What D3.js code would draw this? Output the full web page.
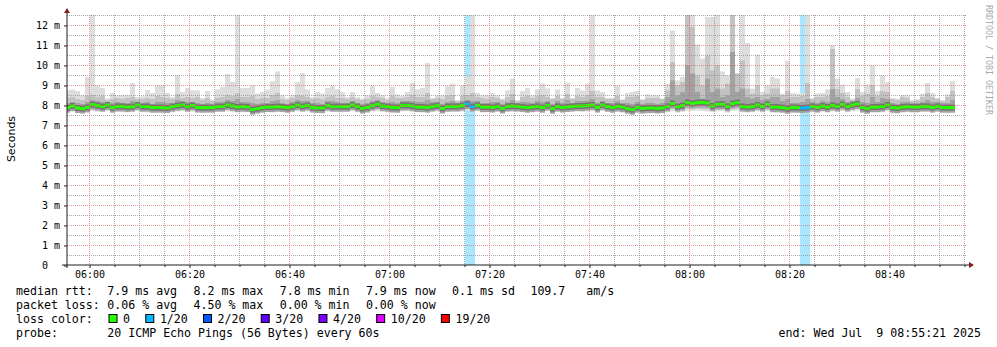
<!DOCTYPE html>
<html>
<head>
<meta charset="utf-8">
<script src="https://cdn.jsdelivr.net/npm/d3@7"></script>
<style>
body { margin: 0; background: #fff; }
svg text { white-space: pre; }
</style>
</head>
<body>
<div id="area"></div>
<script>
// one column per minute, starting 05:55
const firstColumn = '05:55';

// median rtt per minute (ms)
const medRtt = [
  7.87,7.95,7.85,7.82,7.88,8.02,7.97,7.92,8.00,7.87,7.93,7.93,7.90,7.92,8.00,7.92,7.92,7.87,7.87,7.87,7.85,7.92,7.97,8.00,7.92,7.98,7.88,7.87,7.87,7.87,7.92,7.92,8.00,7.95,7.90,7.92,
  7.90,7.77,7.82,7.87,7.90,7.90,7.92,7.90,7.87,7.92,8.00,7.93,7.98,7.88,7.85,7.85,7.97,7.92,7.92,7.92,7.92,8.00,7.92,7.83,7.88,7.97,8.03,7.95,7.92,7.88,7.87,7.98,7.98,7.95,7.90,7.90,
  7.87,7.93,7.97,7.83,7.92,7.93,7.93,7.97,8.05,7.92,7.98,7.90,7.90,7.88,7.93,7.83,7.93,7.95,7.93,7.90,7.87,7.90,7.93,7.87,7.98,7.82,7.93,7.88,7.90,7.93,7.95,7.95,7.97,8.00,7.88,8.00,
  7.92,7.87,7.93,7.90,7.82,7.77,7.88,7.83,7.85,7.85,7.83,7.85,7.93,8.08,7.92,7.97,8.13,8.08,8.12,8.13,8.10,7.95,8.03,8.03,7.93,8.07,8.12,7.93,7.90,7.93,8.00,7.93,8.03,7.90,7.90,7.87,
  7.82,7.88,7.87,7.85,7.87,7.93,7.88,7.95,7.90,7.98,7.93,8.02,7.93,8.00,8.05,7.88,7.82,7.90,7.90,7.92,8.00,7.87,7.85,7.90,7.92,7.90,7.90,7.93,7.93,7.88,7.93,7.87,7.87,7.87
];
// fastest ping per minute (ms)
const minRtt = [
  7.65,7.68,7.62,7.60,7.63,7.70,7.66,7.65,7.70,7.62,7.66,7.64,7.63,7.66,7.70,7.65,7.63,7.60,7.62,7.58,7.60,7.64,7.68,7.70,7.65,7.68,7.62,7.60,7.63,7.62,7.65,7.66,7.68,7.66,7.62,7.64,
  7.64,7.55,7.60,7.62,7.65,7.63,7.66,7.64,7.60,7.66,7.70,7.66,7.68,7.62,7.60,7.58,7.68,7.65,7.66,7.64,7.65,7.70,7.64,7.58,7.62,7.68,7.72,7.66,7.64,7.62,7.60,7.68,7.70,7.66,7.64,7.63,
  7.62,7.66,7.68,7.58,7.65,7.66,7.66,7.68,7.72,7.65,7.70,7.63,7.64,7.62,7.66,7.58,7.65,7.66,7.66,7.64,7.60,7.63,7.66,7.60,7.70,7.56,7.66,7.62,7.64,7.66,7.68,7.66,7.68,7.70,7.62,7.70,
  7.65,7.60,7.66,7.62,7.56,7.52,7.60,7.56,7.58,7.60,7.56,7.58,7.64,7.70,7.62,7.66,7.72,7.70,7.72,7.70,7.68,7.64,7.68,7.70,7.62,7.70,7.72,7.64,7.62,7.64,7.68,7.64,7.70,7.62,7.60,7.60,
  7.55,7.60,7.60,7.58,7.60,7.65,7.60,7.66,7.62,7.68,7.64,7.70,7.64,7.68,7.72,7.60,7.55,7.62,7.62,7.64,7.70,7.58,7.56,7.62,7.64,7.62,7.62,7.66,7.66,7.60,7.66,7.60,7.58,7.60
];
// upper edge of the dense smoke (ms)
const midRtt = [
  8.10,8.15,8.10,8.05,8.15,8.25,8.20,8.15,8.15,8.10,8.15,8.10,8.10,8.20,8.15,8.10,8.15,8.05,8.15,8.15,8.10,8.10,8.25,8.20,8.15,8.15,8.10,8.05,8.10,8.05,8.15,8.15,8.25,8.20,8.30,8.15,
  8.15,8.10,8.05,8.10,8.10,8.20,8.25,8.10,8.05,8.15,8.25,8.20,8.20,8.10,8.10,8.05,8.20,8.20,8.15,8.10,8.10,8.20,8.10,8.05,8.10,8.20,8.25,8.15,8.10,8.15,8.10,8.20,8.20,8.20,8.15,8.15,
  8.25,8.15,8.15,8.05,8.15,8.20,8.10,8.20,8.25,8.20,8.20,8.10,8.10,8.15,8.15,8.05,8.15,8.25,8.10,8.15,8.15,8.10,8.20,8.15,8.20,8.05,8.20,8.10,8.25,8.10,8.20,8.20,8.20,8.30,8.10,8.20,
  8.10,8.10,8.20,8.10,8.10,8.05,8.15,8.05,8.10,8.10,8.05,8.10,8.40,9.23,8.48,8.65,9.98,9.57,8.65,8.32,9.32,8.65,8.82,8.40,8.48,10.65,8.65,8.82,8.40,8.32,8.40,8.25,8.30,8.40,8.40,8.20,
  8.30,8.10,8.10,8.15,8.30,8.15,8.10,8.20,8.15,8.80,8.40,8.30,8.15,8.20,8.35,8.15,8.10,8.40,8.15,8.35,8.30,8.10,8.05,8.15,8.15,8.10,8.10,8.15,8.25,8.15,8.15,8.10,8.10,8.25
];
// upper edge of the medium smoke (ms)
const upRtt = [
  8.35,8.40,8.30,8.25,8.45,8.50,8.40,8.45,8.25,8.30,8.35,8.30,8.35,8.40,8.30,8.30,8.35,8.30,8.45,8.40,8.35,8.30,8.55,8.35,8.40,8.35,8.40,8.25,8.35,8.20,8.35,8.40,8.50,8.45,8.60,8.40,
  8.40,8.45,8.30,8.35,8.35,8.50,8.60,8.30,8.25,8.35,8.50,8.45,8.40,8.30,8.35,8.30,8.40,8.45,8.35,8.35,8.30,8.40,8.30,8.25,8.30,8.45,8.40,8.35,8.25,8.45,8.35,8.35,8.40,8.50,8.40,8.40,
  8.60,8.30,8.35,8.30,8.45,8.50,8.20,8.45,8.50,8.60,8.40,8.35,8.30,8.40,8.35,8.25,8.40,8.55,8.20,8.40,8.45,8.35,8.45,8.50,8.40,8.30,8.45,8.30,8.55,8.30,8.45,8.40,8.50,8.70,8.40,8.40,
  8.30,8.30,8.45,8.25,8.40,8.40,8.45,8.25,8.35,8.35,8.35,8.30,8.73,10.15,8.98,9.15,12.60,11.90,9.48,8.98,10.48,9.73,9.98,8.82,9.07,12.60,9.57,10.23,8.82,8.57,8.98,8.48,8.57,8.82,8.82,8.48,
  8.70,8.40,8.40,8.45,9.10,8.30,8.40,8.40,8.45,10.80,8.80,8.60,8.40,8.25,8.80,8.45,8.55,9.00,8.45,8.70,8.65,8.30,8.25,8.40,8.35,8.20,8.25,8.40,8.60,8.40,8.30,8.20,8.40,8.70
];
// slowest ping per minute (ms)
const maxRtt = [
  8.73,8.77,8.70,8.48,9.40,12.60,8.98,8.85,8.32,8.60,8.48,8.48,8.48,9.10,8.40,8.43,8.75,8.60,8.98,8.98,8.60,8.40,9.48,8.65,8.85,8.73,8.73,8.35,8.70,8.27,8.78,8.90,9.55,9.15,12.60,8.85,
  8.85,8.98,8.57,8.65,8.77,9.18,9.68,8.48,8.35,8.48,9.15,9.60,8.78,8.40,8.65,8.57,8.85,8.95,8.78,8.65,8.40,8.65,8.40,8.32,8.48,8.95,8.60,8.48,8.35,8.90,8.52,8.45,8.65,9.10,8.78,8.85,
  10.10,8.35,8.48,8.48,8.95,9.07,8.23,8.98,9.40,12.60,8.60,8.48,8.48,8.60,8.48,8.32,8.73,9.32,8.23,8.70,8.85,8.48,8.78,9.07,8.83,8.35,8.78,8.35,9.12,8.35,8.85,8.73,9.07,12.60,8.73,8.65,
  8.35,8.35,8.98,8.28,8.60,8.65,8.70,8.28,8.53,8.48,8.48,8.32,9.07,11.73,9.23,9.40,12.60,12.60,11.03,10.32,12.40,12.40,12.60,9.68,9.48,12.60,9.57,12.60,11.10,8.82,10.52,8.65,8.98,9.40,9.32,8.57,
  10.20,8.60,8.57,8.60,12.60,8.35,8.57,8.60,8.78,10.98,9.32,9.02,8.65,8.32,9.35,8.65,9.02,9.98,8.70,9.48,9.15,8.35,8.32,8.48,8.48,8.23,8.28,8.57,9.10,8.60,8.35,8.23,8.53,9.20
];
// minutes with lost pings
const lossTimes = ['07:15', '07:16', '08:22', '08:23'];
const lossPings = [1, 1, 1, 1];

// loss colour legend
const lossSteps = [0, 1, 2, 3, 4, 10, 19];
const lossLabels = ['0', '1/20', '2/20', '3/20', '4/20', '10/20', '19/20'];
const lossColors = ['#26ff00', '#00b8ff', '#0059ff', '#5e00ff', '#7e00ff', '#dd00ff', '#ff0000'];

const yTicks = [0, 1, 2, 3, 4, 5, 6, 7, 8, 9, 10, 11, 12];
const xLabels = ['06:00', '06:20', '06:40', '07:00', '07:20', '07:40', '08:00', '08:20', '08:40'];

const rttStats = ['7.9 ms avg', '8.2 ms max', '7.8 ms min', '7.9 ms now', '0.1 ms sd'];
const rttAms = ['109.7', 'am/s'];
const lossStats = ['0.06 % avg', '4.50 % max', '0.00 % min', '0.00 % now'];
const probeText = '20 ICMP Echo Pings (56 Bytes) every 60s';
const endText = 'end: Wed Jul  9 08:55:21 2025';

var width = 997, height = 347;
var mono = 'DejaVu Sans Mono, monospace';
var grid_color = 'rgba(143,143,143,0.75)',
    mgrid_color = 'rgba(222,79,79,0.6)',
    axis_color = '#1f1f1f',
    arrow_color = '#801f1f';

const parseHM = d3.timeParse('%Y-%m-%d %H:%M');
const day = '2025-07-09 ';
const start = new Date(2025, 6, 9, 5, 55, 24);
const end = new Date(2025, 6, 9, 8, 55, 21);

const x = d3.scaleTime().domain([start, end]).range([67, 966.75]);
const y = d3.scaleLinear().domain([0, 12.5]).range([265, 15]);

const t0 = parseHM(day + firstColumn);
const fmtHM = d3.timeFormat('%H:%M');
const cols = medRtt.map((m, i) => {
    const t = d3.timeMinute.offset(t0, i);
    const li = lossTimes.indexOf(fmtHM(t));
    return { t, med: m, min: minRtt[i], mid: midRtt[i], up: upRtt[i], max: maxRtt[i],
             loss: li < 0 ? 0 : lossPings[li] };
});

function lossColor(n) {
    let c = lossColors[0];
    lossSteps.forEach((s, i) => { if (n >= s) c = lossColors[i]; });
    return c;
}
const colX = c => x(c.t);
const colW = c => x(d3.timeMinute.offset(c.t, 1)) - x(c.t);

const svg = d3.select('#area').append('svg')
    .attr('width', width).attr('height', height)
    .style('background', '#fff');

svg.append('clipPath').attr('id', 'clip')
    .append('rect').attr('x', 67).attr('y', 15).attr('width', 900).attr('height', 250);

const plot = svg.append('g').attr('clip-path', 'url(#clip)');

// loss background bars
plot.selectAll('rect.lossbg').data(cols.filter(c => c.loss > 0)).join('rect')
    .attr('class', 'lossbg')
    .attr('x', colX).attr('width', colW)
    .attr('y', y(12.5)).attr('height', y(0) - y(12.5))
    .attr('fill', c => lossColor(c.loss)).attr('fill-opacity', 0.34);

// smoke, light to dark
const layers = [
    { fill: '#dddddd', lo: c => y(c.min), hi: c => y(c.max) },
    { fill: '#c2c2c2', lo: c => Math.min(y(c.min) - 2, y(c.med) + 8), hi: c => y(c.up) },
    { fill: '#a2a2a2', lo: c => y(c.med) + 5, hi: c => y(c.mid) },
    { fill: '#747474', lo: c => y(c.med) + 3, hi: c => y(c.med) - 3 }
];
layers.forEach((L, li) => {
    plot.selectAll('rect.smoke' + li).data(cols).join('rect')
        .attr('class', 'smoke' + li)
        .attr('x', colX).attr('width', colW)
        .attr('y', c => L.hi(c))
        .attr('height', c => Math.max(0, L.lo(c) - L.hi(c)))
        .attr('fill', L.fill);
});

// median
plot.selectAll('rect.median').data(cols).join('rect')
    .attr('class', 'median')
    .attr('x', colX).attr('width', colW)
    .attr('y', c => y(c.med) - 1.5).attr('height', 3)
    .attr('fill', c => lossColor(c.loss));

// grid (drawn over the data like rrdtool)
const grid = svg.append('g');
const minorY = d3.range(0.5, 12.51, 0.5).filter(v => v % 1 !== 0);
grid.selectAll('line.hmin').data(minorY).join('line')
    .attr('x1', 67).attr('x2', 967).attr('y1', v => y(v) + 0.5).attr('y2', v => y(v) + 0.5)
    .attr('stroke', grid_color).attr('stroke-dasharray', '1,1');
grid.selectAll('line.hmaj').data(yTicks.slice(1)).join('line')
    .attr('x1', 67).attr('x2', 967).attr('y1', v => y(v) + 0.5).attr('y2', v => y(v) + 0.5)
    .attr('stroke', mgrid_color).attr('stroke-dasharray', '1,1');

const majorT = xLabels.map(s => parseHM(day + s));
const minorT = d3.timeMinute.every(5).range(start, end)
    .filter(t => t.getMinutes() % 20 !== 0);
grid.selectAll('line.vmin').data(minorT).join('line')
    .attr('x1', t => x(t) - 0.5).attr('x2', t => x(t) - 0.5).attr('y1', 15).attr('y2', 265)
    .attr('stroke', grid_color).attr('stroke-dasharray', '1,1');
grid.selectAll('line.vmaj').data(majorT).join('line')
    .attr('x1', t => x(t) - 0.5).attr('x2', t => x(t) - 0.5).attr('y1', 15).attr('y2', 265)
    .attr('stroke', mgrid_color).attr('stroke-dasharray', '1,1');

// axes
const yAxis = svg.append('g').attr('transform', 'translate(67,0.5)')
    .call(d3.axisLeft(y).tickValues(yTicks).tickSize(3).tickPadding(4)
        .tickFormat(v => v === 0 ? '0  ' : v + ' m'));
const xAxis = svg.append('g').attr('transform', 'translate(-0.5,265)')
    .call(d3.axisBottom(x).tickValues(majorT).tickSize(3).tickPadding(2.5)
        .tickFormat(fmtHM));
const xMinor = svg.append('g').attr('transform', 'translate(-0.5,265)')
    .call(d3.axisBottom(x).tickValues(minorT).tickSize(2).tickFormat(''));
[yAxis, xAxis, xMinor].forEach(a => {
    a.select('.domain').remove();
    a.selectAll('line').attr('stroke', axis_color);
    a.selectAll('text').attr('font-family', mono).attr('font-size', 10).attr('fill', '#000');
});

svg.append('line').attr('x1', 62).attr('x2', 970).attr('y1', 265).attr('y2', 265)
    .attr('stroke', axis_color);
svg.append('line').attr('x1', 67).attr('x2', 67).attr('y1', 268).attr('y2', 12)
    .attr('stroke', axis_color);
svg.append('path').attr('d', 'M64,13L67,8L70,13Z').attr('fill', arrow_color);
svg.append('path').attr('d', 'M969,262L974,265L969,268Z').attr('fill', arrow_color);

// titles
svg.append('text')
    .attr('transform', 'translate(15,139) rotate(-90)')
    .attr('text-anchor', 'middle')
    .attr('font-family', 'DejaVu Sans, sans-serif').attr('font-size', 11)
    .text('Seconds');
svg.append('text')
    .attr('transform', 'translate(986,5) rotate(90)')
    .attr('font-family', mono).attr('font-size', 8.3).attr('fill', '#aaaaaa')
    .text('RRDTOOL / TOBI OETIKER');

// legend: rrdtool lays every item out on its own with a gap after it
const lg = svg.append('g').attr('font-family', mono).attr('font-size', 11.6).attr('fill', '#000');
const cw = 6.98, col0 = 107.3, colStep = 86.2;
lg.append('text').attr('x', 16).attr('y', 295).text('median rtt:');
rttStats.forEach((s, i) => lg.append('text').attr('x', col0 + i * colStep).attr('y', 295).text(s));
const amsX = col0 + 4 * colStep + rttStats[4].length * cw + 15.5;
lg.append('text').attr('x', amsX).attr('y', 295).text(rttAms[0]);
lg.append('text').attr('x', amsX + rttAms[0].length * cw + 21).attr('y', 295).text(rttAms[1]);

lg.append('text').attr('x', 16).attr('y', 309).text('packet loss:');
lossStats.forEach((s, i) => lg.append('text').attr('x', col0 + i * colStep).attr('y', 309).text(s));

lg.append('text').attr('x', 16).attr('y', 323).text('loss color:');
let cur = 108.5;
lossLabels.forEach((lab, i) => {
    lg.append('rect').attr('x', cur + 0.5).attr('y', 314.5).attr('width', 8).attr('height', 8)
        .attr('fill', lossColors[i]).attr('stroke', '#000').attr('stroke-width', 1);
    lg.append('text').attr('x', cur + 14.6).attr('y', 323).text(lab);
    cur += 14.6 + lab.length * cw + 15.2;
});

lg.append('text').attr('x', 16).attr('y', 337).text('probe:');
lg.append('text').attr('x', col0).attr('y', 337).text(probeText);
lg.append('text').attr('x', 981).attr('y', 337).attr('text-anchor', 'end').text(endText);
</script>
</body>
</html>
